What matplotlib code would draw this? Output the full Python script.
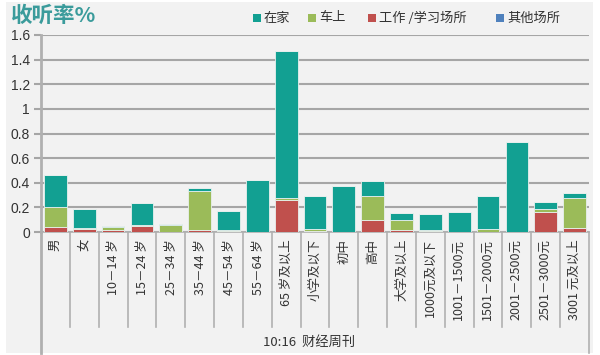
import matplotlib
matplotlib.use("Agg")
import matplotlib.pyplot as plt
from matplotlib.patches import Rectangle
from matplotlib.transforms import blended_transform_factory
import numpy as np

plt.rcParams['font.family'] = ['Noto Sans CJK SC', 'DejaVu Sans']

categories = ["男", "女", "10－14 岁", "15－24 岁", "25－34 岁", "35－44 岁", "45－54 岁",
              "55－64 岁", "65 岁及以上", "小学及以下", "初中", "高中", "大学及以上",
              "1000元及以下", "1001－1500元", "1501－2000元", "2001－2500元",
              "2501－3000元", "3001 元及以上"]
work = [0.04, 0.025, 0.02, 0.045, 0.003, 0.015, 0.005, 0.0, 0.26, 0.005, 0.0, 0.10,
        0.015, 0.005, 0.0, 0.0, 0.0, 0.165, 0.035]
car = [0.16, 0.01, 0.02, 0.01, 0.052, 0.32, 0.015, 0.0, 0.02, 0.02, 0.0, 0.195,
       0.085, 0.01, 0.0, 0.025, 0.0, 0.02, 0.245]
home = [0.26, 0.15, 0.005, 0.18, 0.01, 0.02, 0.15, 0.425, 1.19, 0.27, 0.37, 0.12,
        0.055, 0.135, 0.165, 0.265, 0.735, 0.055, 0.04]
other = [0.0] * len(categories)
series_names = ["在家", "车上", "工作 /学习场所", "其他场所"]
yticks = [0, 0.2, 0.4, 0.6, 0.8, 1, 1.2, 1.4, 1.6]
ytick_labels = ["0", "0.2", "0.4", "0.6", "0.8", "1", "1.2", "1.4", "1.6"]
group_label = "10:16  财经周刊"
title = "收听率%"

c_home = "#12a092"
c_car = "#9bbb59"
c_work = "#c0504d"
c_other = "#4f81bd"
txt = "#333333"
grid_c = "#a6a6a6"

fig = plt.figure(figsize=(6, 3.55), dpi=100)
fig.patch.set_facecolor("white")
bg = Rectangle((6/600, 2/355), 587/600, 351/355, transform=fig.transFigure,
               facecolor="#f2f2f2", edgecolor="none", zorder=-10)
fig.add_artist(bg)

ax = fig.add_axes([41/600, 1 - 232/355, 548/600, 197/355])
ax.set_facecolor("none")
ax.set_zorder(1)
n = len(categories)
x = np.arange(n)
work_a = np.array(work); car_a = np.array(car); home_a = np.array(home); other_a = np.array(other)
w = 0.79
kw = dict(width=w, edgecolor="#e8f0ee", linewidth=0.6, zorder=3)
ax.bar(x, work_a, color=c_work, **kw)
ax.bar(x, car_a, bottom=work_a, color=c_car, **kw)
ax.bar(x, home_a, bottom=work_a + car_a, color=c_home, **kw)
ax.bar(x, other_a, bottom=work_a + car_a + home_a, color=c_other, **kw)

ax.set_xlim(-0.5, n - 0.5)
ax.set_ylim(0, 1.6)
ax.set_yticks(yticks)
ax.set_yticklabels(ytick_labels, fontsize=10, color=txt, family=['Liberation Sans', 'DejaVu Sans'])
ax.yaxis.grid(True, color=grid_c, linewidth=1.5, zorder=1)
ax.set_axisbelow(True)
ax.tick_params(axis='y', length=5, width=1.5, color=grid_c, pad=3)
ax.tick_params(axis='x', length=0, labelbottom=False)
for s in ["top", "right", "bottom"]:
    ax.spines[s].set_visible(False)
ax.spines["left"].set_color("#b0b0b0")
ax.spines["left"].set_linewidth(2)

trans = blended_transform_factory(ax.transData, ax.transAxes)
for k in range(1, n):
    ax.plot([k - 0.5, k - 0.5], [0, -0.482], transform=trans, color="#b0b0b0",
            lw=1.2, clip_on=False, zorder=2)
ax.plot([-0.5, -0.5], [0, -0.614], transform=trans, color="#b0b0b0", lw=2, clip_on=False)
ax.plot([n - 0.5, n - 0.5], [0, -0.614], transform=trans, color="#b0b0b0", lw=1.2, clip_on=False)
ax.plot([-0.5, n - 0.5], [0, 0], transform=trans, color="#b0b0b0", lw=1.2, clip_on=False, zorder=2)

for i, c in enumerate(categories):
    ax.text(i, -0.035, c, transform=trans, rotation=90, ha='center', va='top',
            fontsize=9, color=txt)

fig.text(309/600, 1 - 342/355, group_label, ha='center', va='center', fontsize=9.5, color=txt)

fig.text(11/600, 1 - 15/355, title, ha='left', va='center', fontsize=15.5, fontweight='bold',
         color="#3a9b9b")

legend_items = [(257, series_names[0], c_home), (312, series_names[1], c_car),
                (372, series_names[2], c_work), (500, series_names[3], c_other)]
for px, label, col in legend_items:
    fig.add_artist(Rectangle((px/600 - 4/600, 1 - 22/355), 8/600, 8/355,
                             transform=fig.transFigure, facecolor=col, edgecolor="none"))
    fig.text((px + 7)/600, 1 - 18/355, label, ha='left', va='center', fontsize=9.5, color=txt)

fig.savefig("out.png", dpi=100)
